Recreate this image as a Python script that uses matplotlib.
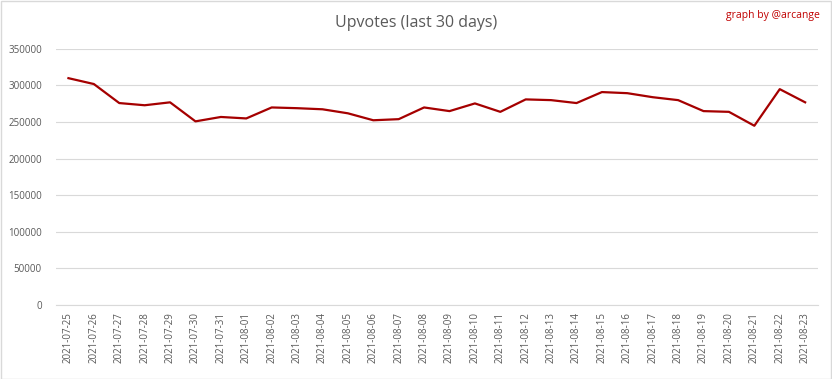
import matplotlib.pyplot as plt

dates = ["2021-07-25", "2021-07-26", "2021-07-27", "2021-07-28", "2021-07-29",
         "2021-07-30", "2021-07-31", "2021-08-01", "2021-08-02", "2021-08-03",
         "2021-08-04", "2021-08-05", "2021-08-06", "2021-08-07", "2021-08-08",
         "2021-08-09", "2021-08-10", "2021-08-11", "2021-08-12", "2021-08-13",
         "2021-08-14", "2021-08-15", "2021-08-16", "2021-08-17", "2021-08-18",
         "2021-08-19", "2021-08-20", "2021-08-21", "2021-08-22", "2021-08-23"]
upvotes = [310000, 302000, 276000, 273000, 277000, 251000, 257000, 255000, 270000, 269000,
           267500, 262000, 252500, 254000, 270000, 265000, 275500, 264000, 281000, 280000,
           276000, 291000, 289500, 284000, 280000, 265000, 264000, 245000, 295000, 277000]
yticks = [0, 50000, 100000, 150000, 200000, 250000, 300000, 350000]

plt.rcParams['font.family'] = ['Open Sans', 'DejaVu Sans']

fig = plt.figure(figsize=(8.32, 3.79), dpi=100)
fig.patches.append(plt.Rectangle((0.001, 0.001), 0.998, 0.997, transform=fig.transFigure,
                                 fill=False, edgecolor='#d9d9d9', linewidth=1))
ax = fig.add_axes([0.067, 0.195, 0.916, 0.676])

x = range(len(dates))
ax.plot(x, upvotes, color='#a50000', linewidth=1.6)

ax.set_xlim(-0.5, len(dates) - 0.5)
ax.set_ylim(0, 350000)
ax.set_yticks(yticks)
ax.set_yticklabels([str(v) for v in yticks])
ax.set_xticks(list(x))
ax.set_xticklabels(dates, rotation=90)
ax.tick_params(axis='both', length=0, labelsize=7, labelcolor='#595959')
ax.tick_params(axis='y', pad=10)
ax.tick_params(axis='x', pad=5)
ax.grid(axis='y', color='#d9d9d9', linewidth=0.8)
ax.set_axisbelow(True)
for s in ['top', 'right', 'left']:
    ax.spines[s].set_visible(False)
ax.spines['bottom'].set_color('#d9d9d9')

fig.text(0.5, 0.94, "Upvotes (last 30 days)", ha='center', va='center',
         fontsize=11.5, color='#595959')
fig.text(0.986, 0.96, "graph by @arcange", ha='right', va='center',
         fontsize=7.5, color='#c00000')

fig.savefig("out.png", dpi=100)
